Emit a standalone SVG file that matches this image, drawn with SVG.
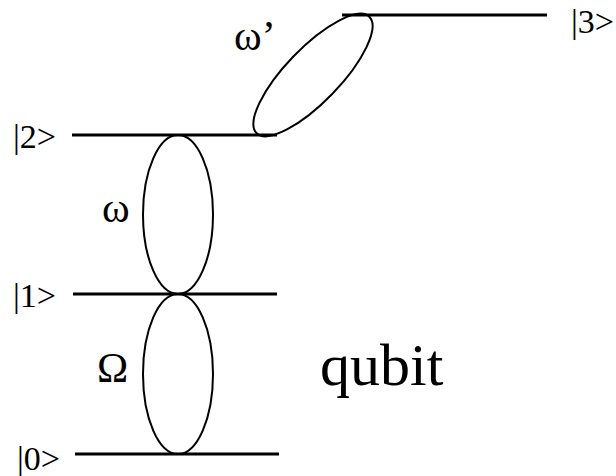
<svg xmlns="http://www.w3.org/2000/svg" width="616" height="476" viewBox="0 0 616 476">
<style>
.lvl{stroke:#000;stroke-width:3;fill:none}
.ell{stroke:#000;stroke-width:2;fill:none}
text{font-family:"Liberation Serif","Times New Roman",serif;fill:#000}
.lab{font-size:34px}
.gk{font-size:42px}
.q{font-size:60px}
</style>
<rect width="616" height="476" fill="#fff"/>
<g id="level3"><line class="lvl" x1="342" y1="15" x2="547" y2="15"/><text class="lab" x="571" y="33">|3&gt;</text></g>
<g id="level2"><line class="lvl" x1="72" y1="135" x2="277" y2="135"/><text class="lab" x="13" y="148">|2&gt;</text></g>
<g id="level1"><line class="lvl" x1="73" y1="294" x2="277" y2="294"/><text class="lab" x="13" y="307">|1&gt;</text></g>
<g id="level0"><line class="lvl" x1="75" y1="454" x2="279" y2="454"/><text class="lab" x="17" y="470">|0&gt;</text></g>
<g id="connectors">
<ellipse class="ell" cx="178" cy="214.5" rx="35" ry="79.5"/>
<ellipse class="ell" cx="178" cy="374" rx="35" ry="80"/>
<ellipse class="ell" cx="313" cy="75" rx="81" ry="27" transform="rotate(-46 313 75)"/>
</g>
<g id="labels">
<text class="gk" x="102" y="222">ω</text>
<text class="gk" x="97" y="382">Ω</text>
<text class="gk" x="234" y="50">ω’</text>
<text class="q" x="320" y="385">qubit</text>
</g>
</svg>
